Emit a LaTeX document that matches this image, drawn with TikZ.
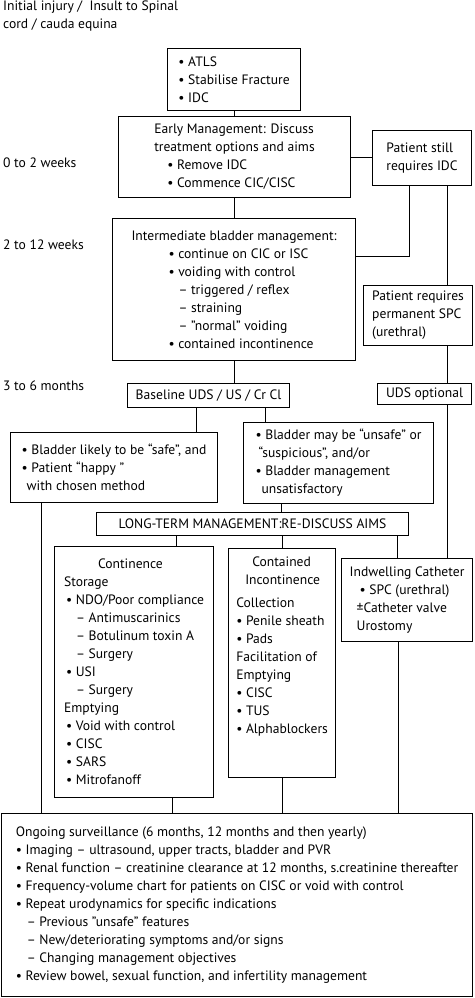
\documentclass[tikz,border=0pt]{standalone}
\usepackage{fontspec}
\setmainfont{PT Sans}
\usetikzlibrary{positioning,calc}

\begin{document}
\begin{tikzpicture}[x=1pt, y=-1pt,
box/.style={draw, line width=1.1pt, anchor=north west, inner sep=0pt, align=left, font=\fontsize{13.6}{18}\selectfont},
tag/.style={anchor=west, inner sep=0pt, font=\fontsize{13.6}{18}\selectfont},
link/.style={line width=1.1pt}
]
\useasboundingbox (0,0) rectangle (474,998);
% time labels
\node[anchor=north west, align=left, inner sep=0pt, font=\fontsize{13.6}{18}\selectfont] (injury) at (3,1) {Initial injury /\ \ Insult to Spinal\\cord / cauda equina};
\node[tag] (wk2) at (3,163) {0 to 2 weeks};
\node[tag] (wk12) at (3,245) {2 to 12 weeks};
\node[tag] (mo6) at (3,386) {3 to 6 months};
% boxes
\node[box, minimum width=133pt, minimum height=62pt] (atls) at (167,48) {• ATLS\\• Stabilise Fracture\\• IDC};
\node[box, minimum width=232pt, minimum height=81pt] (early) at (118,116) {Early Management: Discuss\\treatment options and aims\\\hspace*{13pt}• Remove IDC\\\hspace*{13pt}• Commence CIC/CISC};
\node[box, minimum width=99pt, minimum height=55pt] (still) at (372,130) {Patient still\\requires IDC};
\node[box, minimum width=243pt, minimum height=142pt] (inter) at (112,218) {Intermediate bladder management:\\\hspace*{37pt}• continue on CIC or ISC\\\hspace*{37pt}• voiding with control\\\hspace*{47pt}– triggered / reflex\\\hspace*{47pt}– straining\\\hspace*{47pt}– "normal" voiding\\\hspace*{37pt}• contained incontinence};
\node[box, minimum width=109pt, minimum height=60pt] (spc) at (363,285) {Patient requires\\permanent SPC\\(urethral)};
\node[box, minimum width=162pt, minimum height=24pt] (base) at (127,383) {Baseline UDS / US / Cr Cl};
\node[box, minimum width=94pt, minimum height=21pt] (uds) at (377,383) {UDS optional};
\node[box, minimum width=207pt, minimum height=70pt] (safe) at (10,432) {• Bladder likely to be “safe”, and\\• Patient “happy ”\\\hspace*{5pt}with chosen method};
\node[box, minimum width=190pt, minimum height=81pt] (unsafe) at (243,422) {• Bladder may be “unsafe” or\\\hspace*{3pt}“suspicious”, and/or\\• Bladder management\\\hspace*{6pt}unsatisfactory};
\node[box, minimum width=312pt, minimum height=23pt] (ltm) at (96,512) {LONG-TERM MANAGEMENT:RE-DISCUSS AIMS};
\node[box, minimum width=159pt, minimum height=251pt] (cont) at (54,546) {\hspace*{34pt}Continence\\Storage\\\hspace*{2pt}• NDO/Poor compliance\\\hspace*{12pt}– Antimuscarinics\\\hspace*{12pt}– Botulinum toxin A\\\hspace*{12pt}– Surgery\\\hspace*{2pt}• USI\\\hspace*{12pt}– Surgery\\Emptying\\\hspace*{2pt}• Void with control\\\hspace*{2pt}• CISC\\\hspace*{2pt}• SARS\\\hspace*{2pt}• Mitrofanoff};
\node[box, minimum width=107pt, minimum height=229pt] (contained) at (228,548) {\hspace*{16pt}Contained\\\hspace*{9pt}Incontinence\\[5pt]Collection\\• Penile sheath\\• Pads\\Facilitation of\\Emptying\\• CISC\\• TUS\\• Alphablockers\\[17pt]\mbox{}};
\node[box, minimum width=131pt, minimum height=83pt] (indw) at (341,558) {Indwelling Catheter\\\hspace*{10pt}• SPC (urethral)\\\hspace*{7pt}±Catheter valve\\\hspace*{7pt}Urostomy};
\node[box, minimum width=471pt, minimum height=183pt] (surv) at (1,813) {Ongoing surveillance (6 months, 12 months and then yearly)\\• Imaging – ultrasound, upper tracts, bladder and PVR\\• Renal function – creatinine clearance at 12 months, s.creatinine thereafter\\• Frequency-volume chart for patients on CISC or void with control\\• Repeat urodynamics for specific indications\\\hspace*{11pt}– Previous "unsafe" features\\\hspace*{11pt}– New/deteriorating symptoms and/or signs\\\hspace*{11pt}– Changing management objectives\\• Review bowel, sexual function, and infertility management};
% connectors
\draw[link] (atls.south) -- (atls.south |- early.north);
\draw[link] (early.east) -- (early.east -| still.west);
\draw[link] (early.south) -- (early.south |- inter.north);
\draw[link] ([xshift=-12.5pt]still.south) |- ([yshift=33pt]inter.east);
\draw[link] ([xshift=25.5pt]still.south) -- ([xshift=25.5pt]still.south |- spc.north);
\draw[link] (inter.south) -- (inter.south |- base.north);
\draw[link] ([xshift=23pt]uds.north) -- ([xshift=23pt]uds.north |- spc.south);
\draw[link] ([xshift=-12pt]base.south) -- ([xshift=-12pt]base.south |- safe.north);
\draw[link] ([xshift=57pt]base.south) -- ([xshift=57pt]base.south |- unsafe.north);
\draw[link] ([xshift=-72.5pt]safe.south) -- ([xshift=-72.5pt]safe.south |- surv.north);
\draw[link] ([xshift=-57pt]unsafe.south) -- ([xshift=-57pt]unsafe.south |- ltm.north);
\draw[link] ([xshift=-76pt]ltm.south) -- ([xshift=-76pt]ltm.south |- cont.north);
\draw[link] (contained.north) -- (contained.north |- ltm.south);
\draw[link] ([xshift=145pt]ltm.south) -- ([xshift=145pt]ltm.south |- indw.north);
\draw[link] ([xshift=23pt]uds.south) -- ([xshift=23pt]uds.south |- indw.north);
\draw[link] ([xshift=38.5pt]cont.south) -- ([xshift=38.5pt]cont.south |- surv.north);
\draw[link] (contained.south) -- (contained.south |- surv.north);
\draw[link] ([xshift=-8.5pt]indw.south) -- ([xshift=-8.5pt]indw.south |- surv.north);
\end{tikzpicture}
\end{document}
